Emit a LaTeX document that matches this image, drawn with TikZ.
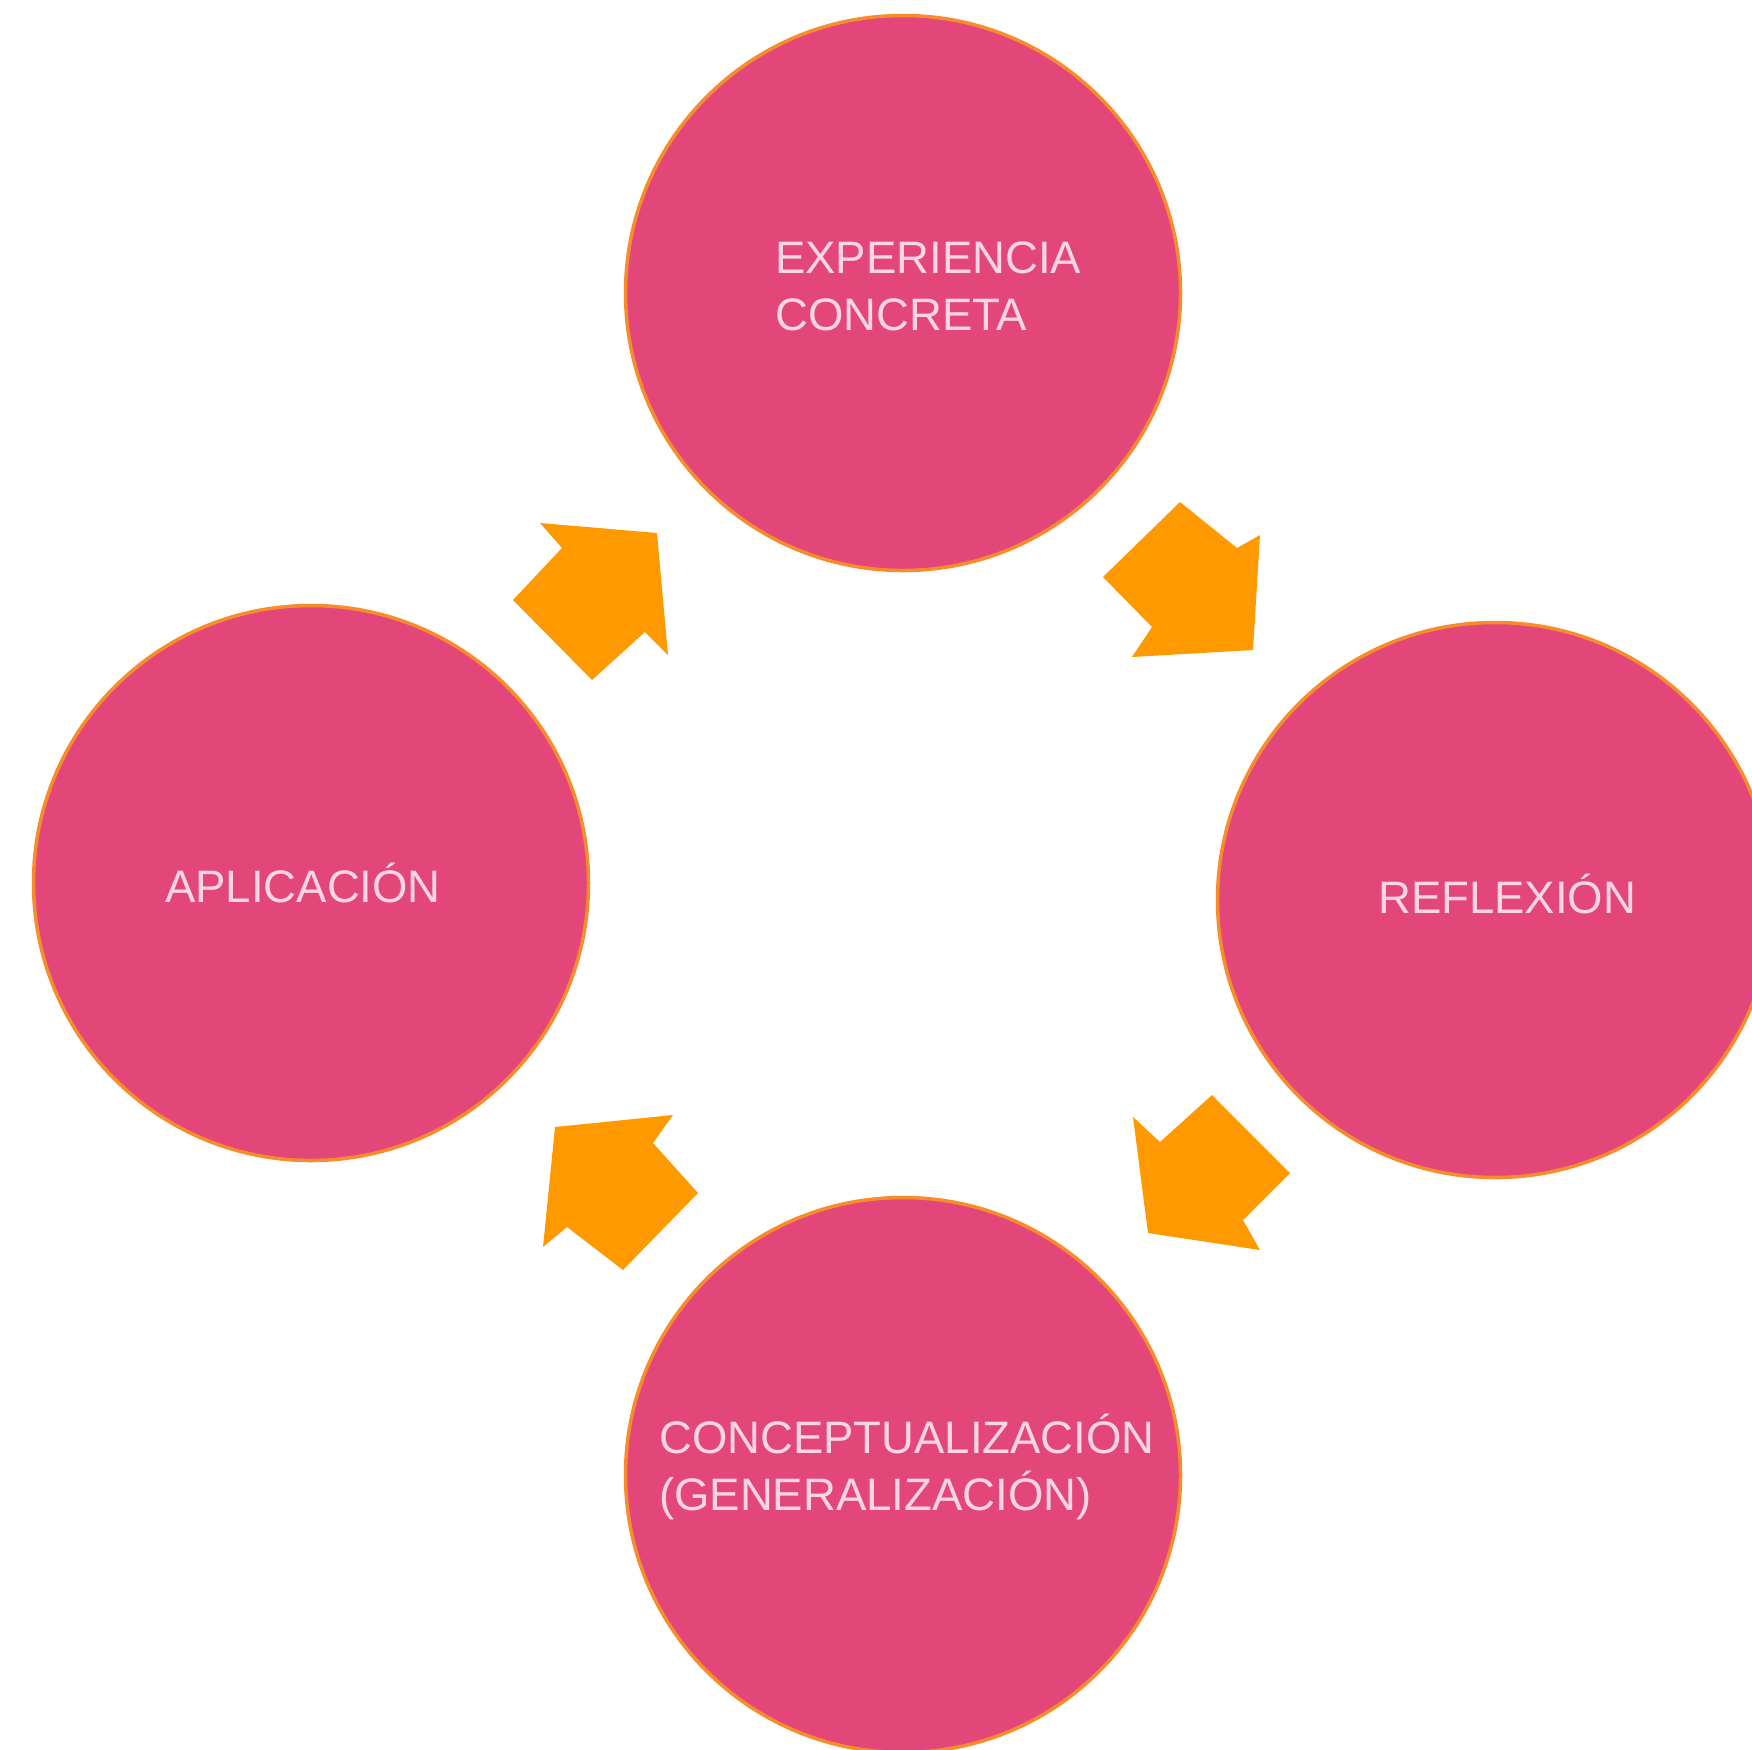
\documentclass[tikz,border=0pt]{standalone}
\usepackage{fontspec}
\setmainfont{Liberation Sans}
\definecolor{circpink}{RGB}{227,71,122}
\definecolor{arroworange}{RGB}{255,153,0}
\definecolor{rimorange}{RGB}{247,140,45}
\definecolor{labelpink}{RGB}{250,214,228}
\begin{document}
\begin{tikzpicture}[x=1pt,y=-1pt,
  phase/.style={circle, fill=circpink, draw=rimorange, line width=3.5pt, minimum size=555pt, inner sep=0pt},
  phasetext/.style={text=labelpink, font=\fontsize{45.5}{57}\selectfont, anchor=base west, inner sep=0pt},
  cyclearrow/.style={fill=arroworange}]
\useasboundingbox (0,0) rectangle (1752,1749);
\clip (0,0) rectangle (1752,1749);
\fill[white] (0,0) rectangle (1752,1749);
% circles
\node[phase] (exp) at (903,293) {};
\node[phase] (ref) at (1495,900) {};
\node[phase] (con) at (903,1475) {};
\node[phase] (apl) at (311,883) {};
% labels
\node[phasetext] (expT1) at (775,273) {EXPERIENCIA};
\node[phasetext] (expT2) at (775,330) {CONCRETA};
\node[phasetext] (refT) at (1378,913) {REFLEXIÓN};
\node[phasetext] (conT1) at (659,1453) {CONCEPTUALIZACIÓN};
\node[phasetext] (conT2) at (659,1510) {(GENERALIZACIÓN)};
\node[phasetext] (aplT) at (165,902) {APLICACIÓN};
% block arrows
\fill[cyclearrow] (540,523) -- (657,533) -- (668,655) -- (645,632) -- (592,680) -- (513,600) -- (562,548) -- cycle;
\fill[cyclearrow] (1180,502) -- (1237,548) -- (1260,535) -- (1253,650) -- (1132,657) -- (1152,627) -- (1103,577) -- cycle;
\fill[cyclearrow] (1133,1117) -- (1160,1142) -- (1212,1095) -- (1290,1173) -- (1243,1220) -- (1260,1250) -- (1148,1233) -- cycle;
\fill[cyclearrow] (555,1127) -- (673,1115) -- (653,1143) -- (698,1193) -- (623,1270) -- (567,1227) -- (543,1247) -- cycle;
\end{tikzpicture}
\end{document}
